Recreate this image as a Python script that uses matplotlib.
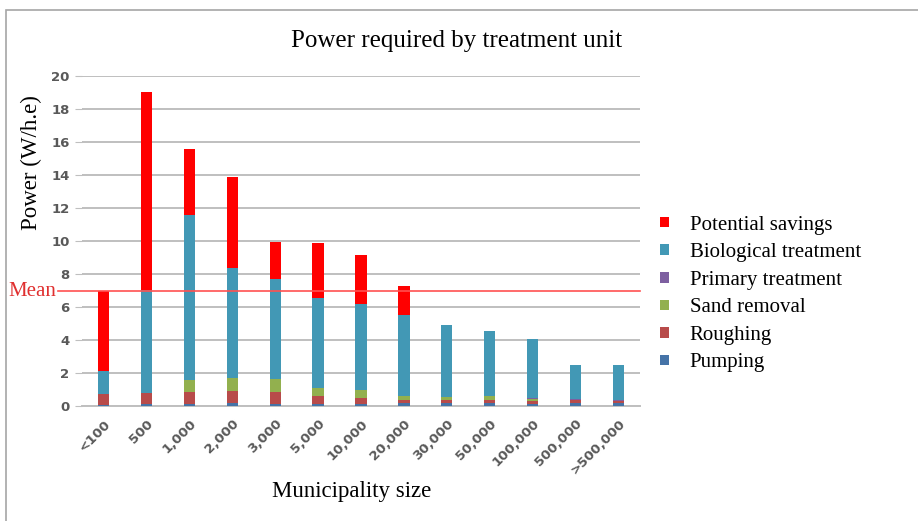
import matplotlib
matplotlib.use('Agg')
import matplotlib.pyplot as plt
from matplotlib.patches import Rectangle
import numpy as np

# municipality sizes and power per unit (W/h.e)
sizes = ['<100', '500', '1,000', '2,000', '3,000', '5,000', '10,000',
         '20,000', '30,000', '50,000', '100,000', '500,000', '>500,000']
pumping = [0.05, 0.1, 0.1, 0.18, 0.1, 0.1, 0.1, 0.2, 0.2, 0.2, 0.15, 0.2, 0.2]
roughing = [0.7, 0.7, 0.72, 0.7, 0.72, 0.5, 0.4, 0.18, 0.15, 0.15, 0.15, 0.18, 0.12]
sand = [0.0, 0.0, 0.78, 0.82, 0.8, 0.5, 0.45, 0.22, 0.2, 0.25, 0.15, 0.0, 0.0]
primary = [0.0, 0.0, 0.0, 0.0, 0.0, 0.0, 0.0, 0.02, 0.02, 0.02, 0.02, 0.02, 0.02]
biological = [1.37, 6.25, 10.0, 6.65, 6.1, 5.47, 5.25, 4.92, 4.33, 3.91, 3.57, 2.1, 2.16]
savings = [4.88, 11.95, 3.95, 5.55, 2.22, 3.31, 2.98, 1.76, 0, 0, 0, 0, 0]
mean_power = 6.95

series = [('Pumping', pumping, '#4573A7'),
          ('Roughing', roughing, '#B84B4A'),
          ('Sand removal', sand, '#92B04E'),
          ('Primary treatment', primary, '#7D5FA0'),
          ('Biological treatment', biological, '#4298B5'),
          ('Potential savings', savings, '#FF0000')]

serif = 'Liberation Serif'
tick_col = '#595959'

fig = plt.figure(figsize=(9.18, 5.21), dpi=100)
fig.patches.append(Rectangle((6/918, -0.1), 1.2, 1 - 10/521 + 0.1,
                             transform=fig.transFigure, fill=False,
                             edgecolor='#A6A6A6', lw=1.2))
ax = fig.add_axes([82/918, 1 - 406/521, 558/918, 330/521])

x = np.arange(len(sizes))
bottom = np.zeros(len(sizes))
handles = []
for name, vals, col in series:
    b = ax.bar(x, vals, width=0.26, bottom=bottom, color=col, label=name, zorder=3)
    handles.append(b)
    bottom += np.array(vals)

ax.set_xlim(-0.5, len(sizes) - 0.5)
ax.set_ylim(0, 20)
ax.set_yticks(np.arange(0, 21, 2))
ax.yaxis.grid(True, color='#BFBFBF', lw=1.4, zorder=0)
ax.set_axisbelow(True)
for s in ['top', 'right', 'left']:
    ax.spines[s].set_visible(False)
ax.spines['bottom'].set_color('#BFBFBF')
ax.spines['bottom'].set_linewidth(1.4)
ax.tick_params(axis='y', colors='#BFBFBF', labelcolor=tick_col, length=5,
               labelsize=9.5, pad=4)
ax.tick_params(axis='x', length=0, labelcolor=tick_col, labelsize=9.5, pad=8)
ax.set_xticks(x)
ax.set_xticklabels(sizes, rotation=45, ha='right', rotation_mode='anchor')
for lab in ax.get_xticklabels() + ax.get_yticklabels():
    lab.set_fontweight('bold')

# mean line, drawn out to the label on the left
ax.axhline(mean_power, xmin=-24/558, xmax=1, color='#FF5050', lw=1.2,
           zorder=4, clip_on=False)
fig.text(56/918, 1 - 292/521, 'Mean', color='#E03030', fontsize=15,
         family=serif, ha='right', va='center')

fig.text(457/918, 1 - 41/521, 'Power required by treatment unit',
         family=serif, fontsize=18, ha='center', va='center')
fig.text(31/918, 1 - 163/521, 'Power (W/h.e)', family=serif, fontsize=16.5,
         rotation=90, ha='center', va='center')
fig.text(352/918, 1 - 491/521, 'Municipality size', family=serif, fontsize=16.5,
         ha='center', va='center')

leg = fig.legend(handles[::-1], [s[0] for s in series][::-1],
                 loc='center left', bbox_to_anchor=(650/918, 1 - 294/521),
                 frameon=False, prop={'family': serif, 'size': 15},
                 borderpad=0, handlelength=0.4, handleheight=0.4,
                 handletextpad=1.0, labelspacing=0.41)

fig.savefig('out.png', dpi=100)
